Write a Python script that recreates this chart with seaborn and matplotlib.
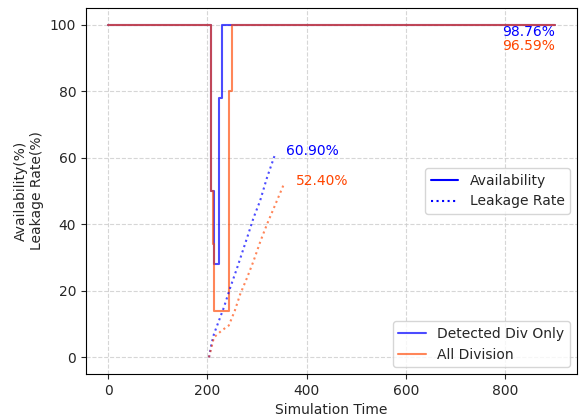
import matplotlib
matplotlib.use("Agg")
import matplotlib.pyplot as plt
from matplotlib.lines import Line2D
import seaborn as sns
import pandas as pd

# Availability (step data)
avail_t_det = [0, 208, 213, 224, 230, 900]
avail_v_det = [100, 50, 28, 78, 100, 100]
avail_t_all = [0, 208, 211, 214, 244, 249, 900]
avail_v_all = [100, 50, 34, 14, 80, 100, 100]

# Leakage rate
leak_t_det = [203, 208, 213, 218, 223, 233, 246, 260, 280, 293, 306, 320, 336]
leak_v_det = [0, 4, 7, 9, 11, 15, 21, 27, 36, 42, 47, 54, 60.9]
leak_t_all = [203, 208, 213, 228, 243, 255, 266, 280, 293, 307, 320, 337, 355]
leak_v_all = [0, 3, 6, 8, 9.6, 14, 19, 24, 29, 35, 40, 46, 52.4]

avail_labels = ["98.76%", "96.59%"]
leak_labels = ["60.90%", "52.40%"]
series_names = ["Detected Div Only", "All Division"]

BLUE = "blue"
ORANGE = "orangered"

sns.set_style("ticks")
plt.rcParams['font.family'] = ['DejaVu Sans']
fig, ax = plt.subplots(figsize=(5.81, 4.17), dpi=100)

df_ad = pd.DataFrame({"t": avail_t_det, "v": avail_v_det})
df_aa = pd.DataFrame({"t": avail_t_all, "v": avail_v_all})
df_ld = pd.DataFrame({"t": leak_t_det, "v": leak_v_det})
df_la = pd.DataFrame({"t": leak_t_all, "v": leak_v_all})

sns.lineplot(data=df_ad, x="t", y="v", ax=ax, color=BLUE, alpha=0.7, lw=1.5,
             drawstyle="steps-post", estimator=None, sort=False)
sns.lineplot(data=df_aa, x="t", y="v", ax=ax, color=ORANGE, alpha=0.65, lw=1.5,
             drawstyle="steps-post", estimator=None, sort=False)
sns.lineplot(data=df_ld, x="t", y="v", ax=ax, color=BLUE, alpha=0.7, lw=1.5,
             linestyle=":", estimator=None, sort=False)
sns.lineplot(data=df_la, x="t", y="v", ax=ax, color=ORANGE, alpha=0.65, lw=1.5,
             linestyle=":", estimator=None, sort=False)

ax.text(900, 97.7, avail_labels[0], color=BLUE, ha="right", va="center", fontsize=10)
ax.text(900, 93.6, avail_labels[1], color=ORANGE, ha="right", va="center", fontsize=10)
ax.text(leak_t_det[-1] + 22, leak_v_det[-1] + 1.0, leak_labels[0], color=BLUE,
        ha="left", va="center", fontsize=10)
ax.text(leak_t_all[-1] + 24, leak_v_all[-1] + 0.7, leak_labels[1], color=ORANGE,
        ha="left", va="center", fontsize=10)

ax.set_xlim(-45, 945)
ax.set_ylim(-5, 105)
ax.set_xticks([0, 200, 400, 600, 800])
ax.set_yticks([0, 20, 40, 60, 80, 100])
ax.grid(True, linestyle="--", color="#cccccc", alpha=0.8)
ax.set_xlabel("Simulation Time")
ax.set_ylabel("Availability(%)\nLeakage Rate(%)")
for s in ax.spines.values():
    s.set_visible(True)
    s.set_color("black")
    s.set_linewidth(0.8)

h1 = [Line2D([], [], color=BLUE, lw=1.5), Line2D([], [], color=BLUE, lw=1.5, ls=":")]
leg1 = ax.legend(h1, ["Availability", "Leakage Rate"], loc="center right", fontsize=10)
ax.add_artist(leg1)
h2 = [Line2D([], [], color=BLUE, lw=1.5, alpha=0.7),
      Line2D([], [], color=ORANGE, lw=1.5, alpha=0.65)]
ax.legend(h2, series_names, loc="lower right", fontsize=10)

fig.subplots_adjust(left=0.148, right=0.993, top=0.981, bottom=0.103)
fig.savefig("out.png", dpi=100)
